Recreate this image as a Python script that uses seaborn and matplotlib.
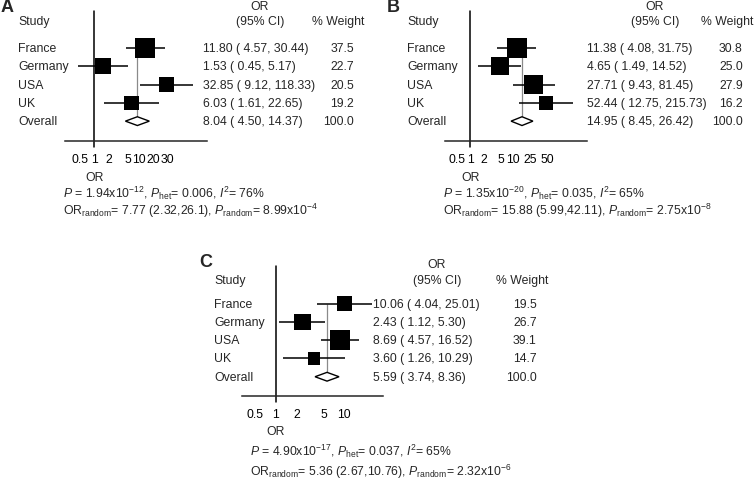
import numpy as np
import pandas as pd
import matplotlib
matplotlib.use("Agg")
import matplotlib.pyplot as plt
import matplotlib.transforms as mtransforms
from matplotlib.ticker import NullLocator
import seaborn as sns

studies = ["France", "Germany", "USA", "UK"]

# panel A
a_or = [11.80, 1.53, 32.85, 6.03]
a_lo = [4.57, 0.45, 9.12, 1.61]
a_hi = [30.44, 5.17, 118.33, 22.65]
a_weight = [37.5, 22.7, 20.5, 19.2]
a_overall = [8.04, 4.50, 14.37]
a_ticks = [0.5, 1, 2, 5, 10, 20, 30]
a_stats = [r"$P$ = 1.94x10$^{-12}$, $P_{\mathrm{het}}$= 0.006, $I^2$= 76%",
           r"OR$_{\mathrm{random}}$= 7.77 (2.32,26.1), $P_{\mathrm{random}}$= 8.99x10$^{-4}$"]

# panel B
b_or = [11.38, 4.65, 27.71, 52.44]
b_lo = [4.08, 1.49, 9.43, 12.75]
b_hi = [31.75, 14.52, 81.45, 215.73]
b_weight = [30.8, 25.0, 27.9, 16.2]
b_overall = [14.95, 8.45, 26.42]
b_ticks = [0.5, 1, 2, 5, 10, 25, 50]
b_stats = [r"$P$ = 1.35x10$^{-20}$, $P_{\mathrm{het}}$= 0.035, $I^2$= 65%",
           r"OR$_{\mathrm{random}}$= 15.88 (5.99,42.11), $P_{\mathrm{random}}$= 2.75x10$^{-8}$"]

# panel C
c_or = [10.06, 2.43, 8.69, 3.60]
c_lo = [4.04, 1.12, 4.57, 1.26]
c_hi = [25.01, 5.30, 16.52, 10.29]
c_weight = [19.5, 26.7, 39.1, 14.7]
c_overall = [5.59, 3.74, 8.36]
c_ticks = [0.5, 1, 2, 5, 10]
c_stats = [r"$P$ = 4.90x10$^{-17}$, $P_{\mathrm{het}}$= 0.037, $I^2$= 65%",
           r"OR$_{\mathrm{random}}$= 5.36 (2.67,10.76), $P_{\mathrm{random}}$= 2.32x10$^{-6}$"]

sns.set_style("white")
plt.rcParams['font.family'] = ['Liberation Sans', 'DejaVu Sans']
plt.rcParams['mathtext.fontset'] = 'custom'
plt.rcParams['mathtext.rm'] = 'Liberation Sans'
plt.rcParams['mathtext.it'] = 'Liberation Sans:italic'
plt.rcParams['mathtext.bf'] = 'Liberation Sans:bold'

W, H = 756, 485
FS = 8.8
fig = plt.figure(figsize=(W / 100, H / 100), dpi=100)


def fx(px):
    return px / W


def fy(py):
    return 1 - py / H


def draw_panel(letter, ors, lo, hi, weight, overall, ticks, stats, lay):
    left, right, top, bottom = lay['box']
    ax = fig.add_axes([fx(left), fy(bottom), (right - left) / W, (bottom - top) / H])
    ax.set_xscale('log')
    rows = np.arange(len(studies))
    df = pd.DataFrame({'study': studies, 'OR': ors, 'row': rows, 'weight': weight})

    ax.hlines(rows, lo, hi, color='black', lw=1.1, zorder=2)
    sns.scatterplot(data=df, x='OR', y='row', size='weight',
                    sizes={w: lay['k'] * w for w in weight},
                    marker='s', color='black', linewidth=0, legend=False,
                    ax=ax, zorder=3)

    est, clo, chi = overall
    orow = len(studies)
    h = 0.24
    ax.vlines(est, 0, orow - h, color='#8a8a8a', lw=0.9, zorder=1)
    ax.fill([clo, est, chi, est], [orow, orow - h, orow, orow + h],
            facecolor='white', edgecolor='black', lw=1.0, zorder=3)
    ax.axvline(1, ymin=-0.045, ymax=1, color='black', lw=1.1, clip_on=False)

    ax.set_xlim(lay['xlim'])
    ax.set_ylim(5.07, -2.04)
    ax.set_xticks(ticks, labels=[f"{t:g}" for t in ticks])
    ax.xaxis.set_minor_locator(NullLocator())
    ax.set_yticks([])
    ax.set_xlabel('')
    ax.set_ylabel('')
    sns.despine(ax=ax, left=True)
    ax.spines['bottom'].set_linewidth(1.1)
    ax.tick_params(axis='x', length=2.5, width=1, pad=6, labelsize=FS,
                   direction='out', colors='black')
    # nudge crowded tick labels apart
    for lbl, dx in zip(ax.get_xticklabels(), lay['tick_dx']):
        lbl.set_transform(lbl.get_transform() +
                          mtransforms.ScaledTranslation(dx / 100, 0, fig.dpi_scale_trans))

    xdata_yfig = mtransforms.blended_transform_factory(ax.transData, fig.transFigure)
    xfig_ydata = mtransforms.blended_transform_factory(fig.transFigure, ax.transData)
    ax.text(1, fy(lay['or_y']), 'OR', transform=xdata_yfig, ha='center', va='center', fontsize=FS)

    # headers
    lx, ly = lay['letter']
    fig.text(fx(lx), fy(ly), letter, fontsize=13, fontweight='bold', ha='left', va='center')
    fig.text(fx(lay['study_x']), fy(lay['hdr_y'][1]), 'Study', fontsize=FS, ha='left', va='center')
    fig.text(fx(lay['or_x']), fy(lay['hdr_y'][0]), 'OR', fontsize=FS, ha='center', va='center')
    fig.text(fx(lay['or_x']), fy(lay['hdr_y'][1]), '(95% CI)', fontsize=FS, ha='center', va='center')
    fig.text(fx(lay['w_x']), fy(lay['hdr_y'][1]), '% Weight', fontsize=FS, ha='center', va='center')

    names = studies + ['Overall']
    vals = [f"{o:.2f} ( {l:.2f}, {u:.2f})" for o, l, u in zip(ors, lo, hi)]
    vals.append(f"{est:.2f} ( {clo:.2f}, {chi:.2f})")
    wts = [f"{w:.1f}" for w in weight] + [f"{100:.1f}"]
    for r, (nm, v, w) in enumerate(zip(names, vals, wts)):
        ax.text(fx(lay['study_x']), r, nm, transform=xfig_ydata, ha='left', va='center', fontsize=FS)
        ax.text(fx(lay['val_x']), r, v, transform=xfig_ydata, ha='left', va='center', fontsize=FS)
        ax.text(fx(lay['w_right']), r, w, transform=xfig_ydata, ha='right', va='center', fontsize=FS)

    for s, sy in zip(stats, lay['stats_y']):
        fig.text(fx(lay['stats_x']), fy(sy + 4.4), s, fontsize=FS, ha='left', va='baseline')


draw_panel('A', a_or, a_lo, a_hi, a_weight, a_overall, a_ticks, a_stats,
           dict(box=(65, 207, 11.7, 141.7), xlim=(0.24, 236), k=5.65,
                letter=(1, 7.5), study_x=18.3, hdr_y=(6.7, 22.3), or_x=260,
                w_x=338.3, val_x=202.7, w_right=354, or_y=178.3,
                stats_x=63.3, stats_y=(193.3, 211), tick_dx=[0, 0, 0, 0, -3, -3, 3]))

draw_panel('B', b_or, b_lo, b_hi, b_weight, b_overall, b_ticks, b_stats,
           dict(box=(445, 587, 11.7, 141.7), xlim=(0.27, 443), k=6.6,
                letter=(387, 7.5), study_x=407.3, hdr_y=(6.7, 22.3), or_x=655,
                w_x=726.7, val_x=586.7, w_right=742.7, or_y=178.3,
                stats_x=443, stats_y=(193.3, 211), tick_dx=[0, 0, 0, 0, -1, -2, 2]))

draw_panel('C', c_or, c_lo, c_hi, c_weight, c_overall, c_ticks, c_stats,
           dict(box=(241.7, 383, 267.3, 397.3), xlim=(0.32, 36.5), k=5.45,
                letter=(199, 262.5), study_x=214, hdr_y=(265, 280.7), or_x=436.7,
                w_x=521.7, val_x=373.3, w_right=536.7, or_y=431.7,
                stats_x=250, stats_y=(451.7, 471.7), tick_dx=[0, 0, 0, 0, 0]))

fig.savefig("out.png", dpi=100)
